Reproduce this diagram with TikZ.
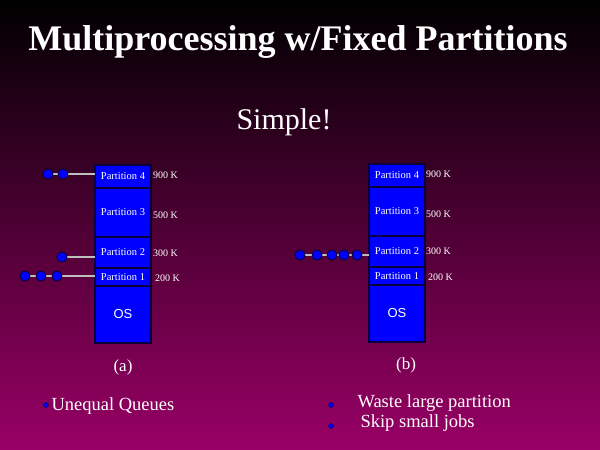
\documentclass[tikz,border=0pt]{standalone}
\usepackage{fontspec}
\setmainfont{Liberation Serif}
\setsansfont{Liberation Sans}
\usetikzlibrary{positioning}

\definecolor{slidebot}{RGB}{153,0,102}
\definecolor{partblue}{RGB}{0,0,255}
\definecolor{partedge}{RGB}{10,0,60}
\definecolor{queueline}{RGB}{190,190,190}

\begin{document}
\begin{tikzpicture}[x=1pt,y=-1pt,node distance=0pt,
  part/.style={rectangle,fill=partblue,draw=partedge,line width=1.5pt,
    minimum width=56pt,inner sep=0pt,outer sep=0pt,text=white,
    font=\fontsize{10.5}{12}\selectfont},
  size/.style={text=white,inner sep=1pt,font=\fontsize{10}{12}\selectfont},
  job/.style={circle,fill=partblue,draw=partedge,line width=0.8pt,
    minimum size=10pt,inner sep=0pt},
  queue/.style={draw=queueline,line width=2pt},
  dot/.style={circle,fill=partblue,draw=partedge,line width=0.4pt,
    minimum size=5pt,inner sep=0pt},
  label/.style={text=white,font=\fontsize{18.5}{21}\selectfont}]

  \shade[top color=black,bottom color=slidebot] (0,0) rectangle (600,450);
  \useasboundingbox (0,0) rectangle (600,450);

  \node[text=white,font=\bfseries\fontsize{36}{40}\selectfont] (title) at (298,42)
    {Multiprocessing w/Fixed Partitions};
  \node[text=white,font=\fontsize{30}{34}\selectfont] (simple) at (284,122) {Simple!};

  % (a)
  \node[part,minimum height=23pt,anchor=north west] (a4) at (95,165) {Partition 4};
  \node[part,minimum height=49pt] (a3) [below=of a4] {Partition 3};
  \node[part,minimum height=31pt] (a2) [below=of a3] {Partition 2};
  \node[part,minimum height=18pt] (a1) [below=of a2] {Partition 1};
  \node[part,minimum height=57pt,font=\sffamily\fontsize{13}{15}\selectfont] (a0) [below=of a1] {OS};

  \node[size] (s4) [right=1pt of a4,yshift=1pt] {900 K};
  \node[size] (s3) [right=1pt of a3,yshift=-3pt] {500 K};
  \node[size] (s2) [right=1pt of a2,yshift=-1pt] {300 K};
  \node[size] (s1) [right=3pt of a1,yshift=-1pt] {200 K};

  \node[job] (q41) at (48,174) {};
  \node[job] (q42) at (63,174) {};
  \node[job] (q21) at (62,257) {};
  \node[job] (q11) at (25,276) {};
  \node[job] (q12) at (41,276) {};
  \node[job] (q13) at (57,276) {};
  \draw[queue] (q41) -- (q42) -- (q42 -| a4.west);
  \draw[queue] (q21) -- (q21 -| a2.west);
  \draw[queue] (q11) -- (q12) -- (q13) -- (q13 -| a1.west);
  \foreach \q in {q41,q42,q21,q11,q12,q13}
    \node[job] at (\q) {};

  % (b)
  \node[part,minimum height=23pt,anchor=north west] (b4) at (369,164) {Partition 4};
  \node[part,minimum height=49pt] (b3) [below=of b4] {Partition 3};
  \node[part,minimum height=31pt] (b2) [below=of b3] {Partition 2};
  \node[part,minimum height=18pt] (b1) [below=of b2] {Partition 1};
  \node[part,minimum height=57pt,font=\sffamily\fontsize{13}{15}\selectfont] (b0) [below=of b1] {OS};

  \node[size] (t4) [right=0pt of b4,yshift=1pt] {900 K};
  \node[size] (t3) [right=0pt of b3,yshift=-3pt] {500 K};
  \node[size] (t2) [right=0pt of b2] {300 K};
  \node[size] (t1) [right=2pt of b1,yshift=-1pt] {200 K};

  \node[job] (r1) at (300,255) {};
  \node[job] (r2) at (317,255) {};
  \node[job] (r3) at (332,255) {};
  \node[job] (r4) at (344,255) {};
  \node[job] (r5) at (357,255) {};
  \draw[queue] (r1) -- (r2) -- (r3) -- (r4) -- (r5) -- (r5 -| b2.west);
  \foreach \r in {r1,r2,r3,r4,r5}
    \node[job] at (\r) {};

  \node[label,font=\fontsize{17}{19}\selectfont] (capa) at (123,367) {(a)};
  \node[label,font=\fontsize{17}{19}\selectfont] (capb) at (406,365) {(b)};

  \node[dot] (d1) at (46,405) {};
  \node[label,anchor=west] (n1) at (48,406) {Unequal Queues};
  \node[dot] (d2) at (331,405) {};
  \node[label,anchor=west] (n2) at (354,403) {Waste large partition};
  \node[dot] (d3) at (331,426) {};
  \node[label,anchor=west] (n3) at (357,423) {Skip small jobs};
\end{tikzpicture}
\end{document}
